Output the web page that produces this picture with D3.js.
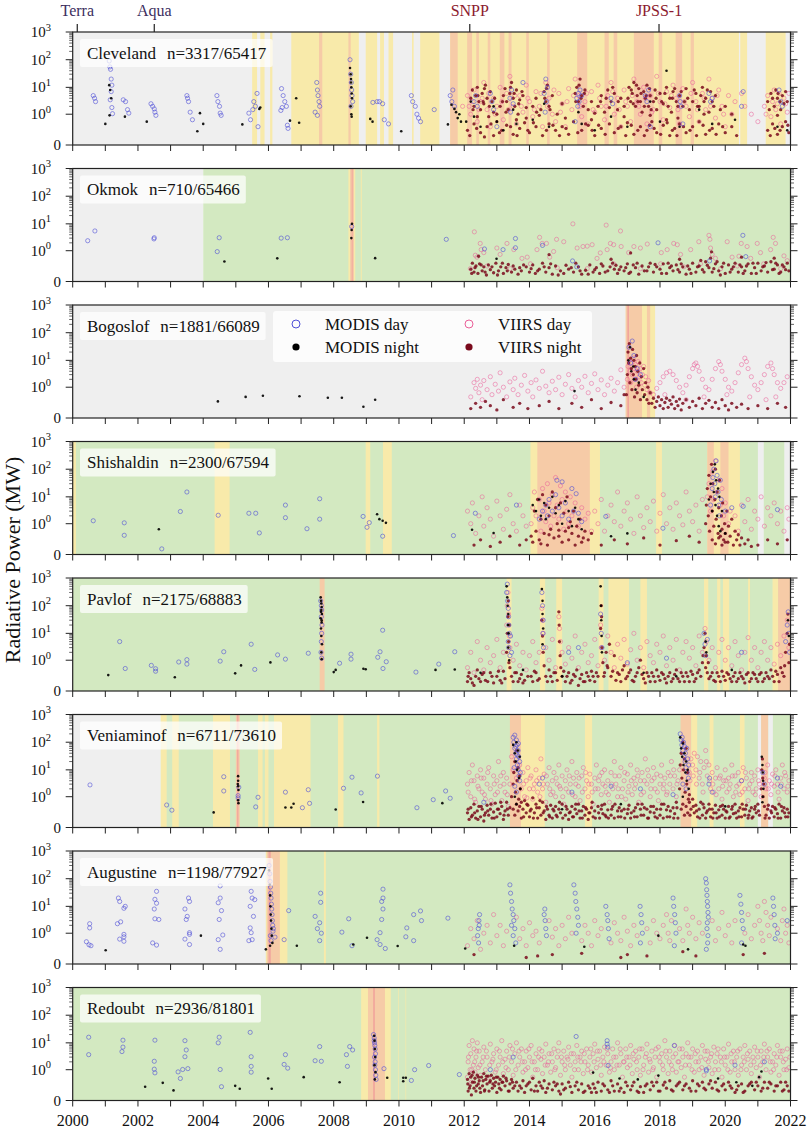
<!DOCTYPE html>
<html lang="en"><head>
<meta charset="utf-8">
<title>Radiative power, Alaskan volcanoes</title>
<script src="https://cdn.jsdelivr.net/npm/d3@7"></script>
<style>
  body { margin: 0; background: #fff; }
  text { font-family: "Liberation Serif", "DejaVu Serif", serif; }
</style>
</head>
<body>
<svg id="chart" width="808" height="1128"></svg>
<script>
// all point data: [years since 2000, radiative power in MW]
// bands: [start, end, colour code] in years since 2000 (u = unmonitored, g/y/o/r = alert colour)

const volcanoes = ["Cleveland", "Okmok", "Bogoslof", "Shishaldin", "Pavlof", "Veniaminof", "Augustine", "Redoubt"];
const detections = ["3317/65417", "710/65466", "1881/66089", "2300/67594", "2175/68883", "6711/73610", "1198/77927", "2936/81801"];

const satelliteNames = ["Terra", "Aqua", "SNPP", "JPSS-1"];
const satelliteYears = [2000.14, 2002.5, 2012.17, 2017.97];
const satelliteSensor = ["MODIS", "MODIS", "VIIRS", "VIIRS"];

const yearTicks = d3.range(2000, 2023);
const yearLabels = d3.range(2000, 2023, 2);
const powerTicks = [0, 1, 10, 100, 1000];
const powerExp = ["", "0", "1", "2", "3"];

const seriesNames = ["MODIS day", "MODIS night", "VIIRS day", "VIIRS night"];

// ---------- Cleveland
const clevelandBands = [[0,22,"u"],[5.5,5.65,"y"],[5.75,5.88,"y"],[6.05,6.12,"y"],[6.7,8.77,"y"],[7.55,7.65,"o"],[8.45,8.52,"o"],
  [8.98,9.33,"y"],[9.42,9.54,"y"],[9.68,9.82,"y"],[10.4,10.45,"y"],[10.65,11.24,"y"],[11.57,20.42,"y"],[20.46,20.67,"y"],[21.24,21.85,"y"],
  [11.57,11.8,"o"],[12.09,12.24,"o"],[12.37,12.45,"o"],[12.72,12.8,"o"],[13.09,13.23,"o"],[13.36,13.45,"o"],[13.9,13.98,"o"],[14.54,14.62,"o"],
  [15.46,15.77,"o"],[16.3,16.43,"o"],[16.58,16.69,"o"],[17.2,17.81,"o"],[17.96,18.07,"o"],[18.48,18.68,"o"],[18.94,19.04,"o"]];
const clevelandModisDay = [[0.63,5],[0.67,4],[0.7,3],[1.12,90],[1.14,55],[1.16,45],[1.18,20],[1.2,12],[1.18,7],[1.15,3.5],[1.2,1.8],[1.22,1.05],
  [1.55,3.5],[1.62,3],[1.68,1.5],[1.72,1.1],[2.4,2.5],[2.45,2],[2.5,1.6],[2.52,1.2],[2.55,0.9],[3.5,5],[3.52,4],[3.55,3],[3.6,1.2],[3.67,0.6],
  [4.42,5],[4.45,3],[4.5,2],[4.52,1.1],[4.55,0.9],[5.4,1.1],[5.45,0.6],[5.55,3],[5.6,2],[5.65,6],[5.68,0.3],[5.52,1.5],
  [6.38,1.4],[6.4,9],[6.45,5],[6.5,3],[6.55,2],[6.58,0.35],[6.6,0.25],[6.42,1.8],[7.43,1.2],[7.48,15],[7.5,8],[7.52,5],[7.55,3],[7.57,2],[7.5,0.9],
  [8.5,100],[8.52,30],[8.54,15],[8.55,8],[8.56,5],[8.58,3],[8.53,2],[9.33,3],[9.4,3],[9.5,2.5],[9.55,0.6],[9.68,0.4],[9.2,2.8],
  [10.38,5],[10.42,3],[10.5,2],[10.55,1],[10.6,0.7],[10.66,0.5],[11.08,1.5],[11.57,5],[11.62,3],[11.7,2],[11.65,8],
  [12.3,3],[12.35,5],[12.4,2],[12.8,6],[12.85,3],[12.9,1.5],[13.4,4],[13.45,8],[13.5,2.5],[13.42,1.2],[13.8,15],[14.45,6],[14.5,20],[14.52,3],
  [14.55,10],[14.48,1.2],[15.45,4],[15.5,6],[15.52,3],[15.55,8],[15.48,2],[15.6,5],[16.5,4],[16.55,2.5],[17.55,5],[17.6,3],[17.65,8],
  [18.6,5],[18.62,3],[18.65,2],[18.7,0.4],[19.5,6],[19.55,3],[19.6,4],[20.55,7],[20.5,2],[21.65,8],[21.7,3],[21.75,2],[13.0,0.3],[15.4,0.5],[17.7,0.3]];
const clevelandModisNight = [[1.0,0.4],[1.12,12],[1.15,8],[1.18,4],[1.13,0.9],[1.6,0.8],[2.27,0.5],[3.82,0.18],[3.9,1.1],[4.0,0.4],[5.2,0.38],
  [5.72,1.6],[5.75,1.8],[6.66,0.55],[6.85,4],[6.94,0.45],[8.5,50],[8.52,30],[8.53,20],[8.54,10],[8.55,6],[8.56,4],[8.52,2],[8.54,1],[8.55,0.8],[8.53,15],
  [9.12,0.65],[9.19,0.5],[10.07,0.18],[11.5,0.38],[11.61,2.3],[11.7,1.6],[11.75,1.2],[11.8,0.7],[11.9,0.5],[12.06,0.5],[11.85,1.0],
  [12.2,3],[12.3,0.8],[12.5,0.3],[12.9,2],[13.0,0.5],[13.2,0.2],[13.5,1.5],[13.6,0.4],[14.1,0.6],[14.45,2.5],[14.6,0.3],[15.5,1.2],[15.6,0.4],
  [16.0,0.2],[16.5,0.8],[17.0,0.3],[17.7,3],[18.2,40],[18.0,0.5],[18.6,0.3],[19.2,1.5],[19.6,0.4],[20.3,0.6],[21.6,0.3],[21.9,0.2]];
const clevelandViirsDay = [[11.95,2],[12.1,5],[12.2,1],[12.3,8],[12.4,0.5],[12.5,3],[12.6,15],[12.7,1.5],[12.8,0.3],[12.9,4],[13.0,2],[13.1,10],
  [13.2,0.6],[13.3,6],[13.4,25],[13.5,2],[13.6,0.4],[13.7,5],[13.8,1.2],[13.9,12],[14.0,3],[14.1,0.8],[14.2,7],[14.3,2],[14.4,0.3],[14.5,15],
  [14.6,4],[14.7,1],[14.8,0.5],[14.9,6],[15.0,2.5],[15.1,0.3],[15.2,9],[15.3,1.5],[15.4,20],[15.5,5],[15.6,0.8],[15.7,3],[15.8,0.4],[15.9,7],
  [16.0,1.2],[16.1,12],[16.2,2],[16.3,0.6],[16.4,5],[16.5,15],[16.6,1],[16.7,4],[16.8,0.3],[16.9,8],[17.0,2],[17.1,0.5],[17.2,20],[17.3,3],
  [17.4,1],[17.5,10],[17.6,0.4],[17.7,5],[17.8,1.5],[17.9,25],[18.0,3],[18.1,0.6],[18.2,7],[18.3,1.8],[18.4,12],[18.5,4],[18.6,0.4],[18.7,9],
  [18.8,2],[18.9,0.8],[19.0,15],[19.1,3],[19.2,0.5],[19.3,6],[19.4,1.5],[19.5,20],[19.6,4],[19.7,0.7],[19.8,8],[19.9,2],[20.0,0.3],[20.1,5],
  [20.2,1],[20.3,3],[20.5,6],[20.6,2],[20.8,1],[21.0,0.5],[21.2,2],[21.3,5],[21.4,0.8],[21.5,8],[21.6,2.5],[21.7,0.4],[21.8,4],[21.9,1.2],[21.95,6],
  [12.15,2],[12.25,3],[12.45,1.5],[12.55,4],[12.75,6],[12.95,1],[13.15,3],[13.35,1.5],[13.55,5],[13.75,2],[13.95,4],[14.15,1.5],[14.35,6],
  [14.55,2],[14.75,8],[14.95,1.2],[15.15,3],[15.35,5],[15.55,2],[15.75,6],[15.95,1.5],[16.15,4],[16.35,2],[16.55,7],[16.75,1.5],[16.95,3],
  [17.15,5],[17.35,2],[17.55,4],[17.75,1.2],[17.95,6],[18.15,2.5],[18.35,5],[18.55,1.5],[18.75,3],[18.95,6],[19.15,1.5],[19.35,4],[19.55,2],
  [19.75,5],[19.95,1],[21.25,1],[21.45,3],[21.55,1.5],[21.65,6],[21.85,2.5]];
const clevelandViirsNight = [[12.2,4],[12.25,8],[12.3,2],[12.35,5],[12.4,10],[12.45,3],[12.5,1.5],[12.55,6],[12.6,2.5],[12.65,12],[12.7,4],
  [12.75,0.8],[12.8,7],[12.85,3],[12.9,1.2],[13.1,2],[13.2,5],[13.25,9],[13.3,3],[13.35,1.5],[13.4,6],[13.45,15],[13.5,4],[13.55,2],[13.6,8],
  [13.65,1],[13.7,3.5],[13.8,5],[13.9,1.8],[14.1,2],[14.2,4],[14.35,1.5],[14.45,7],[14.5,3],[14.55,12],[14.6,2],[14.7,5],[14.85,1],[15.0,2.5],
  [15.4,6],[15.45,10],[15.5,3],[15.55,20],[15.6,5],[15.65,2],[15.7,8],[15.8,1.5],[15.9,3],[16.1,2],[16.2,5],[16.3,1.2],[16.4,8],[16.5,3],
  [16.6,6],[16.7,1.5],[16.8,4],[16.9,2],[17.05,10],[17.1,3],[17.15,6],[17.2,15],[17.25,2],[17.3,5],[17.35,9],[17.4,3],[17.45,1.2],[17.5,7],
  [17.55,4],[17.6,12],[17.65,2],[17.7,5],[17.8,3],[17.85,8],[17.9,1.5],[18.0,6],[18.1,2.5],[18.2,10],[18.3,4],[18.35,1.2],[18.4,7],[18.5,3],
  [18.6,5],[18.7,2],[18.8,9],[18.9,1.5],[19.0,3],[19.1,6],[19.2,2],[19.3,10],[19.4,4],[19.5,1.2],[19.55,7],[19.6,3],[19.7,5],[19.85,1.5],
  [20.0,2],[20.2,1],[21.3,3],[21.4,6],[21.5,2],[21.55,8],[21.6,4],[21.7,1.5],[21.75,5],[21.8,2.5],[21.9,3],
  [12.1,0.2],[12.3,0.4],[12.5,0.15],[12.7,0.3],[12.9,0.1],[13.0,0.5],[13.15,0.2],[13.3,0.35],[13.5,0.12],[13.7,0.25],[13.85,0.45],[14.0,0.15],
  [14.2,0.3],[14.4,0.1],[14.6,0.4],[14.8,0.2],[15.0,0.3],[15.2,0.12],[15.35,0.5],[15.6,0.2],[15.8,0.35],[16.0,0.1],[16.2,0.25],[16.45,0.4],
  [16.6,0.15],[16.8,0.3],[17.0,0.45],[17.2,0.12],[17.4,0.3],[17.6,0.2],[17.75,0.5],[17.9,0.15],[18.1,0.35],[18.3,0.1],[18.45,0.25],[18.6,0.4],
  [18.8,0.15],[19.0,0.3],[19.2,0.5],[19.4,0.12],[19.6,0.25],[19.8,0.4],[20.0,0.15],[20.2,0.3],[20.35,0.1],[21.3,0.2],[21.45,0.4],[21.6,0.12],
  [21.75,0.3],[21.85,0.5],[21.95,0.15],[12.4,0.8],[13.0,1],[13.9,0.7],[14.3,0.9],[15.1,0.7],[16.0,1.1],[16.9,0.8],[17.7,0.9],[18.55,0.7],
  [19.35,1],[21.6,0.9],[13.6,0.6],[15.9,0.6],[18.2,0.6],
  [12.27,1.5],[12.42,5],[12.58,3],[12.62,9],[12.77,2],[12.93,4],[13.17,3],[13.28,1.2],[13.42,10],[13.53,6],[13.67,2.5],[13.77,7],[14.22,1.2],
  [14.47,4],[14.52,9],[14.63,1.5],[15.42,3],[15.52,12],[15.58,4],[15.68,6],[16.18,3],[16.35,4],[16.45,1.8],[16.55,10],[16.72,3],[17.02,4],
  [17.12,8],[17.18,2.5],[17.28,12],[17.32,3],[17.42,6],[17.52,2],[17.58,5],[17.68,9],[17.73,1.5],[17.88,4],[18.05,3],[18.15,6],[18.25,2],
  [18.38,4],[18.45,9],[18.55,2],[18.65,7],[18.75,3],[18.85,4],[19.05,8],[19.15,2],[19.25,5],[19.35,3],[19.45,8],[19.65,2],[21.35,1.5],
  [21.45,4],[21.62,6],[21.68,3],[21.85,7],[12.17,0.1],[12.38,0.25],[12.62,0.08],[12.82,0.4],[13.08,0.15],[13.42,0.3],[13.62,0.1],[13.95,0.2],
  [14.12,0.45],[14.52,0.2],[14.72,0.35],[14.92,0.1],[15.12,0.25],[15.48,0.15],[15.72,0.4],[15.92,0.2],[16.12,0.35],[16.32,0.12],[16.72,0.25],
  [16.95,0.1],[17.12,0.35],[17.32,0.2],[17.52,0.1],[17.68,0.35],[17.82,0.25],[18.02,0.12],[18.22,0.45],[18.38,0.2],[18.52,0.1],[18.72,0.3],
  [18.92,0.2],[19.12,0.1],[19.32,0.35],[19.52,0.2],[19.72,0.12],[19.92,0.3],[21.38,0.1],[21.52,0.25],[21.68,0.2],[21.92,0.35]];

// ---------- Okmok
const okmokBands = [[0,4.0,"u"],[4.0,22,"g"],[8.45,8.66,"y"],[8.5,8.62,"o"],[8.55,8.58,"r"],[8.83,8.86,"y"]];
const okmokModisDay = [[0.46,2.4],[0.68,5.5],[2.49,2.8],[2.5,3.1],[4.43,0.92],[4.49,3.1],[6.39,3],[6.58,3.1],[8.55,8],[11.45,2.7],[12.62,1.17],
  [13.19,1.1],[13.57,2.9],[13.57,1.3],[14.4,1.6],[15.32,0.38],[15.45,0.2],[17.94,2],[19.52,0.38],[20.54,3.8],[20.63,0.58]];
const okmokModisNight = [[4.65,0.36],[6.27,0.49],[8.55,6],[8.56,10],[8.54,3],[9.27,0.5],[12.99,0.47]];
const okmokViirsDay = [[12.31,5.1],[12.49,1.9],[12.52,1.1],[12.34,0.66],[12.39,0.55],[12.6,0.84],[13.0,1.27],[13.1,0.71],[13.31,1.9],[13.52,1.1],
  [13.77,0.49],[13.93,0.55],[14.23,1.1],[14.31,3.2],[14.39,1.9],[14.52,1.9],[14.62,0.55],[14.74,0.93],[14.83,2.7],[15.05,2.2],[15.33,10],
  [15.46,1.27],[15.64,1.45],[15.77,1.5],[15.92,1.7],[16.07,0.49],[16.17,0.82],[16.35,9],[16.38,1.1],[16.48,1.9],[16.58,1.7],[16.79,5.5],
  [16.81,1.45],[17.04,0.84],[17.2,1.45],[17.4,1.27],[17.61,1.8],[18.04,0.84],[18.22,1.1],[18.42,1.9],[18.53,1.7],[18.63,0.71],[18.94,1.1],
  [19.19,2.2],[19.5,3.8],[19.53,2.7],[19.55,1.27],[19.6,0.71],[19.7,0.49],[20.06,2.2],[20.21,0.55],[20.42,0.6],[20.49,1.9],[20.67,1.45],
  [20.78,0.49],[20.98,1.9],[21.08,0.84],[21.39,1.1],[21.47,3.2],[21.54,1.9],[21.8,0.62],[21.9,0.39],[12.19,0.16],[12.7,0.22],[13.41,0.16],
  [14.03,0.28],[14.85,0.18],[15.77,0.16],[16.58,0.28],[17.4,0.16],[18.02,0.28],[18.73,0.2],[19.24,0.28],[19.86,0.16],[20.37,0.22],[21.18,0.28],[21.7,0.16]];
const okmokViirsNight = [[12.2,0.15],[12.25,0.3],[12.3,0.1],[12.36,0.22],[12.42,0.08],[12.47,0.28],[12.55,0.12],[12.6,0.2],[12.68,0.06],
  [12.74,0.25],[12.8,0.14],[12.9,0.09],[12.97,0.3],[13.05,0.12],[13.12,0.2],[13.2,0.08],[13.28,0.18],[13.35,0.26],[13.45,0.1],[13.55,0.15],
  [13.65,0.07],[13.75,0.12],[13.9,0.2],[14.0,0.1],[14.1,0.25],[14.18,0.08],[14.3,0.15],[14.4,0.3],[14.5,0.1],[14.6,0.18],[14.7,0.07],[14.8,0.22],
  [14.95,0.12],[15.05,0.08],[15.2,0.15],[15.35,0.1],[15.5,0.2],[15.6,0.07],[15.72,0.13],[15.85,0.25],[15.95,0.1],[16.05,0.18],[16.15,0.08],
  [16.25,0.22],[16.4,0.12],[16.55,0.3],[16.6,0.15],[16.7,0.08],[16.8,0.2],[16.9,0.12],[17.0,0.28],[17.1,0.1],[17.25,0.18],[17.35,0.07],
  [17.45,0.22],[17.6,0.12],[17.7,0.3],[17.8,0.1],[17.9,0.2],[18.0,0.15],[18.1,0.28],[18.2,0.08],[18.3,0.18],[18.4,0.12],[18.5,0.25],[18.6,0.1],
  [18.7,0.2],[18.8,0.07],[18.9,0.15],[19.0,0.3],[19.1,0.1],[19.2,0.22],[19.3,0.14],[19.4,0.35],[19.5,0.18],[19.55,0.5],[19.6,0.1],[19.7,0.28],
  [19.8,0.12],[19.9,0.2],[20.0,0.08],[20.1,0.25],[20.2,0.15],[20.3,0.3],[20.4,0.1],[20.5,0.2],[20.6,0.12],[20.7,0.28],[20.8,0.08],[20.9,0.18],
  [21.0,0.3],[21.1,0.12],[21.2,0.22],[21.3,0.1],[21.4,0.35],[21.5,0.15],[21.6,0.25],[21.7,0.1],[21.8,0.2],[21.9,0.3],[21.95,0.12],
  [12.44,0.6],[14.6,0.7],[17.1,0.82],[16.5,0.45],[19.58,0.9],[20.5,0.55],[21.5,0.5],[18.6,0.45],
  [12.23,0.08],[12.33,0.18],[12.52,0.25],[12.64,0.1],[12.85,0.2],[13.02,0.06],[13.17,0.3],[13.32,0.12],[13.5,0.22],[13.7,0.18],[13.82,0.25],
  [14.05,0.16],[14.25,0.12],[14.45,0.2],[14.65,0.28],[14.88,0.06],[15.12,0.24],[15.28,0.18],[15.42,0.3],[15.55,0.12],[15.8,0.07],[16.0,0.14],
  [16.2,0.28],[16.32,0.1],[16.47,0.2],[16.65,0.24],[16.75,0.14],[16.95,0.18],[17.05,0.08],[17.18,0.25],[17.3,0.3],[17.52,0.12],[17.65,0.2],
  [17.85,0.26],[18.05,0.08],[18.25,0.3],[18.35,0.22],[18.55,0.14],[18.65,0.28],[18.85,0.22],[18.95,0.08],[19.15,0.2],[19.25,0.4],[19.35,0.1],
  [19.45,0.24],[19.65,0.16],[19.75,0.35],[19.85,0.06],[19.95,0.3],[20.15,0.1],[20.25,0.2],[20.45,0.25],[20.55,0.08],[20.65,0.22],[20.85,0.3],
  [20.95,0.08],[21.15,0.2],[21.25,0.32],[21.45,0.14],[21.55,0.3],[21.65,0.08],[21.75,0.25],[21.85,0.14]];

// ---------- Bogoslof
const bogoslofBands = [[0,22,"u"],[16.95,17.85,"y"],[16.95,17.45,"o"],[17.0,17.05,"r"],[17.6,17.7,"o"]];
const bogoslofModisDay = [[17.05,30],[17.1,8],[17.15,50],[17.2,15],[17.3,5],[17.4,3],[17.25,2]];
const bogoslofModisNight = [[4.45,0.25],[5.3,0.4],[5.83,0.45],[6.95,0.43],[7.82,0.37],[8.25,0.37],[8.91,0.13],[9.27,0.3],[15.38,0.7],
  [17.03,10],[17.08,30],[17.12,4],[17.2,2],[17.25,0.8],[17.35,1.5],[17.5,0.4],[17.18,6]];
const bogoslofViirsDay = [[12.2,0.4],[12.3,1.5],[12.35,0.9],[12.4,2.0],[12.45,0.6],[12.5,1.2],[12.55,0.3],[12.6,1.8],[12.7,0.8],[12.8,2.5],
  [12.85,0.5],[12.95,1.3],[13.05,0.7],[13.1,3.5],[13.2,1.0],[13.3,0.4],[13.4,1.6],[13.5,0.8],[13.55,2.2],[13.65,0.5],[13.75,1.2],[13.85,2.8],
  [13.95,0.7],[14.05,1.5],[14.1,0.4],[14.2,1.9],[14.3,0.9],[14.4,4.0],[14.5,1.1],[14.6,0.6],[14.7,1.7],[14.8,0.8],[14.9,2.4],[15.0,0.5],
  [15.1,1.3],[15.2,3.0],[15.3,0.9],[15.4,0.4],[15.5,1.8],[15.6,1.0],[15.7,2.6],[15.8,0.6],[15.9,1.4],[16.0,3.2],[16.1,0.8],[16.2,1.9],
  [16.3,0.5],[16.4,1.2],[16.5,2.2],[16.6,0.7],[16.7,1.5],[16.8,4.5],[16.9,1.0],[17.0,2],[17.02,6],[17.05,10],[17.08,4],[17.1,1.5],[17.12,8],
  [17.15,3],[17.18,12],[17.2,5],[17.22,2],[17.25,7],[17.28,1],[17.3,4],[17.33,9],[17.36,2.5],[17.4,5],[17.43,1.5],[17.46,3],[17.5,6],
  [17.53,1.2],[17.56,2.5],[17.6,0.8],[17.65,1.8],[17.7,0.6],[17.8,0.5],[17.9,0.9],[18.0,1.5],[18.1,2.5],[18.2,3.5],[18.3,4],[18.4,3],
  [18.5,1.8],[18.6,1],[18.7,0.6],[18.8,1.2],[18.9,2.5],[19.0,5],[19.05,7],[19.1,8],[19.15,6],[19.2,4],[19.3,2],[19.4,1],[19.5,0.8],[19.6,2],
  [19.7,5],[19.8,9],[19.85,7],[19.9,4],[20.0,2],[20.1,1],[20.2,0.7],[20.3,1.5],[20.4,3.5],[20.5,7],[20.6,12],[20.65,9],[20.7,5],[20.8,2.5],
  [20.9,1.2],[21.0,0.8],[21.1,1.5],[21.2,3],[21.3,6],[21.4,8],[21.45,5],[21.5,3],[21.6,1.5],[21.7,0.9],[21.8,1.5],[21.9,2.5],[18.15,0.5],
  [18.8,0.3],[19.35,0.4],[20.05,0.5],[20.75,0.4],[21.55,0.4],[21.25,0.3]];
const bogoslofViirsNight = [[12.2,0.1],[12.35,0.2],[12.5,0.12],[12.65,0.25],[12.8,0.15],[13.0,0.08],[13.2,0.3],[13.5,0.12],[13.7,0.2],[13.95,0.1],
  [14.3,0.15],[14.6,0.25],[14.9,0.1],[15.3,0.2],[15.6,0.12],[15.9,0.3],[16.2,0.1],[16.5,0.22],[16.8,0.15],[16.9,0.5],[16.97,0.5],[17.0,3],
  [17.02,20],[17.04,8],[17.06,40],[17.08,1.5],[17.1,12],[17.12,5],[17.14,0.8],[17.16,25],[17.18,3],[17.2,10],[17.22,0.4],[17.24,6],[17.26,2],
  [17.28,15],[17.3,0.6],[17.32,4],[17.35,1.2],[17.38,8],[17.4,0.3],[17.43,2.5],[17.46,0.8],[17.5,5],[17.53,0.5],[17.56,1.5],[17.6,0.3],
  [17.63,1],[17.66,0.2],[17.7,0.6],[17.75,0.2],[17.8,0.35],[17.85,0.12],[17.9,0.25],[17.95,0.4],[18.0,0.15],[18.05,0.3],[18.1,0.1],[18.15,0.22],
  [18.2,0.35],[18.25,0.12],[18.3,0.28],[18.35,0.18],[18.4,0.4],[18.45,0.1],[18.5,0.25],[18.55,0.15],[18.6,0.32],[18.65,0.08],[18.7,0.2],
  [18.8,0.3],[18.9,0.12],[19.0,0.25],[19.1,0.15],[19.2,0.35],[19.3,0.1],[19.4,0.2],[19.5,0.28],[19.6,0.12],[19.7,0.22],[19.8,0.1],[19.9,0.3],
  [20.0,0.15],[20.1,0.08],[20.2,0.2],[20.35,0.12],[20.5,0.18],[20.7,0.1],[21.0,0.15],[21.3,0.1],[21.6,0.2],[21.85,0.12]];

// ---------- Shishaldin
const shishaldinBands = [[0,22,"g"],[0,0.1,"y"],[4.35,4.81,"y"],[8.98,9.12,"y"],[9.51,9.78,"y"],[14.03,16.16,"y"],[14.24,15.85,"o"],
  [17.88,18.06,"y"],[19.45,20.45,"y"],[19.45,19.65,"o"],[19.85,20.1,"o"],[21.0,21.18,"u"],[21.81,22,"u"]];
const shishaldinModisDay = [[0.63,1.3],[1.58,1.08],[1.58,0.33],[2.73,0.05],[3.3,2.9],[3.5,15],[4.46,2.1],[5.4,2.5],[5.61,2.5],[5.72,0.42],
  [6.52,5],[6.52,1.7],[7.18,0.63],[7.57,8.5],[7.57,1.5],[8.9,1.9],[9.02,0.72],[9.09,1.1],[9.5,0.3],[11.67,0.32],
  [12.34,2.5],[13.6,5],[14.3,1.5],[14.4,3],[14.5,5],[14.55,2],[14.6,8],[14.7,3],[14.8,12],[14.9,4],[15.0,2],[15.1,6],[15.2,1.5],[15.3,20],
  [15.35,3],[15.43,13],[15.5,2.5],[15.6,1.2],[16.34,1.9],[18.09,0.66],[19.55,5],[19.6,20],[19.62,50],[19.65,100],[19.68,30],[19.7,10],
  [19.72,200],[19.75,60],[19.78,15],[19.8,5],[19.82,2],[19.85,40],[19.88,8],[20.0,3],[20.2,4],[20.55,4.5],[21.6,3.4],[15.0,35],[14.84,40]];
const shishaldinModisNight = [[2.64,0.6],[9.33,2.3],[9.4,1.5],[9.5,1.3],[9.6,1.08],[12.24,0.57],[12.9,0.42],[14.1,5],[14.2,3],[14.3,8],
  [14.35,2],[14.45,6],[14.5,1.5],[14.6,4],[14.7,10],[14.8,2.5],[14.9,5],[15.0,1],[15.1,7],[15.2,3],[15.3,0.8],[15.4,4],[15.5,1.5],[15.6,0.6],
  [19.5,8],[19.55,30],[19.6,3],[19.62,80],[19.65,15],[19.68,150],[19.7,5],[19.72,40],[19.75,2],[19.78,20],[19.8,0.8],[19.82,10],[19.85,0.5],
  [19.9,3],[20.0,0.4],[16.5,0.3],[17.0,0.4]];
const shishaldinViirsDay = [[12.1,3],[12.2,1],[12.25,6],[12.35,0.4],[12.45,2],[12.55,10],[12.6,0.8],[12.7,4],[12.8,1.5],[12.9,0.3],[13.0,7],
  [13.1,2],[13.2,0.6],[13.3,3.5],[13.4,12],[13.5,1],[13.6,0.5],[13.7,5],[13.8,2],[13.9,0.8],[14.05,1],[14.1,4],[14.15,15],[14.2,2],[14.3,8],
  [14.35,0.5],[14.4,20],[14.45,3],[14.5,1.2],[14.55,30],[14.6,6],[14.65,0.8],[14.7,12],[14.75,2],[14.8,50],[14.85,5],[14.9,1.5],[14.95,25],
  [15.0,8],[15.05,0.6],[15.1,15],[15.15,3],[15.2,1],[15.25,10],[15.3,2],[15.4,6],[15.5,0.8],[15.6,4],[15.7,1.5],[15.8,2.5],[15.9,0.5],
  [16.0,3],[16.1,1],[16.2,8],[16.3,0.5],[16.4,2],[16.5,5],[16.6,1.2],[16.7,15],[16.8,0.8],[16.9,3],[17.0,6],[17.1,1.5],[17.2,0.4],[17.3,10],
  [17.4,2],[17.5,0.7],[17.6,4],[17.7,1.2],[17.8,7],[17.9,0.5],[18.0,2.5],[18.1,12],[18.2,1],[18.3,4],[18.4,0.6],[18.5,6],[18.6,2],[18.7,0.9],
  [18.8,15],[18.9,3],[19.0,1.2],[19.1,5],[19.2,0.5],[19.3,8],[19.45,10],[19.5,30],[19.55,3],[19.6,80],[19.65,8],[19.7,200],[19.75,15],
  [19.8,40],[19.85,5],[19.9,20],[19.95,2],[20.0,6],[20.1,1],[20.15,3],[20.3,2],[20.4,0.5],[20.5,5],[20.6,1.2],[20.7,8],[20.8,0.6],[20.9,3],
  [21.0,1.5],[21.1,10],[21.2,0.8],[21.3,4],[21.4,2],[21.5,6],[21.6,1],[21.7,3],[21.8,0.5],[21.9,4],[21.95,1.5]];
const shishaldinViirsNight = [[12.3,0.1],[12.5,0.2],[12.8,0.08],[13.1,0.15],[13.4,0.3],[13.7,0.1],[13.9,0.2],[14.05,0.3],[14.1,0.15],[14.15,3],
  [14.2,0.5],[14.25,8],[14.3,0.2],[14.35,1.5],[14.4,12],[14.45,0.4],[14.5,5],[14.55,0.1],[14.6,2],[14.65,0.6],[14.7,15],[14.75,0.25],[14.8,4],
  [14.85,1],[14.9,0.3],[14.95,6],[15.0,0.15],[15.05,2.5],[15.1,0.5],[15.15,10],[15.2,0.2],[15.25,1.2],[15.3,0.4],[15.35,3],[15.4,0.1],
  [15.45,0.8],[15.5,0.3],[15.55,1.5],[15.6,0.15],[15.7,0.5],[15.8,0.2],[15.9,0.4],[14.35,0.12],[14.6,0.35],[14.9,0.55],[15.2,0.7],[15.65,0.25],
  [16.2,0.1],[16.6,0.2],[17.0,0.12],[17.5,0.25],[18.0,0.1],[18.5,0.18],[18.9,0.3],[19.2,0.15],[19.4,1],[19.42,5],[19.45,20],[19.48,2],
  [19.5,60],[19.52,0.5],[19.55,10],[19.58,150],[19.6,3],[19.62,30],[19.65,0.8],[19.68,8],[19.7,100],[19.72,1.5],[19.75,15],[19.78,0.4],
  [19.8,4],[19.82,40],[19.85,0.3],[19.88,2],[19.9,0.6],[19.92,6],[19.95,0.2],[19.98,1],[20.0,0.4],[20.05,3],[20.08,0.15],[20.1,0.8],
  [20.15,0.3],[20.2,1.5],[20.25,0.1],[20.3,0.5],[20.35,0.2],[20.4,0.35],[20.45,0.1],[20.5,0.25],[20.6,0.12],[20.7,0.2],[20.8,0.08],
  [19.6,0.2],[19.7,0.12],[19.8,0.25],[19.9,0.1],[20.0,0.15],[21.0,0.1],[21.3,0.2],[21.6,0.12],[21.9,0.2]];

// ---------- Pavlof
const pavlofBands = [[0,22,"g"],[7.57,7.72,"o"],[13.3,13.45,"y"],[14.32,14.48,"y"],[14.82,15.0,"y"],[16.12,16.27,"y"],[16.42,17.05,"y"],
  [17.4,17.6,"y"],[19.35,19.48,"y"],[19.75,19.85,"y"],[19.93,20.12,"y"],[20.7,20.76,"y"],[21.45,21.62,"y"],[21.62,22,"o"]];
const pavlofModisDay = [[1.44,5],[1.61,0.46],[2.41,0.62],[2.54,0.45],[2.54,0.35],[3.25,0.85],[3.5,1.05],[3.5,0.7],[4.52,0.92],[4.63,2.1],
  [5.47,4],[5.58,0.42],[6.28,1.6],[6.52,1.1],[7.22,1.85],[8.18,0.76],[8.53,1.7],[8.53,1.1],[9.35,1.3],[9.5,13],[9.42,2.1],[9.61,0.87],
  [9.51,0.46],[10.52,0.32],[11.22,0.7],[11.71,2.1],[7.6,150],[7.62,100],[7.63,70],[7.62,40],[7.64,20],[7.63,10],[7.62,5],[7.61,2],[7.63,1.2],
  [13.3,300],[13.32,600],[13.33,150],[13.35,80],[13.36,40],[13.37,20],[13.38,10],[13.35,5],[13.36,3],[13.4,1.5],[13.42,8],[13.45,2],
  [14.38,300],[14.4,100],[14.42,30],[14.41,10],[14.43,3],[15.2,2],[15.5,3],[16.18,50],[16.2,10],[16.22,3],[19.35,10],[19.38,4],[19.4,1.5],
  [19.45,6],[17.0,0.8],[18.2,1.2],[20.5,2],[21.85,5],[21.9,20],[21.93,60],[21.95,10],[21.97,2]];
const pavlofModisNight = [[1.09,0.23],[3.13,0.18],[4.98,0.28],[5.16,0.62],[6.06,0.82],[8.0,0.32],[8.06,0.4],[8.91,0.45],[8.98,0.43],
  [11.12,0.4],[11.71,0.42],[7.6,200],[7.61,150],[7.62,120],[7.63,90],[7.62,70],[7.64,50],[7.6,35],[7.63,25],[7.61,15],[7.62,8],[7.64,4],
  [7.62,2],[7.63,1.1],[7.61,60],[7.63,30],[13.3,500],[13.32,200],[13.33,100],[13.35,50],[13.34,20],[13.36,10],[13.35,3],[13.38,1],
  [14.38,400],[14.4,150],[14.4,50],[14.42,15],[14.4,4],[16.18,500],[16.19,100],[16.2,30],[16.21,8],[16.22,2],[19.4,5],[19.42,2],
  [21.92,30],[21.95,8],[12.5,0.3],[13.8,0.4],[15.0,0.2],[17.5,0.3],[18.5,0.2],[20.2,0.4]];
const pavlofViirsDay = [[12.1,0.5],[12.2,2],[12.3,0.3],[12.4,5],[12.5,1],[12.6,0.4],[12.7,3],[12.8,0.8],[12.9,1.5],[13.0,6],[13.1,0.5],
  [13.2,2],[13.3,20],[13.32,100],[13.34,300],[13.36,50],[13.38,8],[13.4,3],[13.5,1],[13.6,4],[13.7,0.6],[13.8,2],[13.9,0.4],[14.0,1.5],
  [14.1,5],[14.2,0.8],[14.3,2],[14.38,80],[14.4,30],[14.42,10],[14.5,3],[14.6,1],[14.7,6],[14.8,0.5],[14.9,40],[14.92,15],[14.95,5],
  [15.0,2],[15.1,0.7],[15.2,3],[15.3,1.2],[15.4,8],[15.5,0.5],[15.6,2],[15.7,4],[15.8,0.8],[15.9,1.5],[16.0,6],[16.1,0.6],[16.18,20],
  [16.2,3],[16.3,1],[16.4,8],[16.5,2],[16.6,0.5],[16.7,4],[16.8,1.2],[16.9,6],[17.0,0.7],[17.1,2.5],[17.2,10],[17.3,1],[17.4,3],[17.5,0.5],
  [17.6,5],[17.7,1.5],[17.8,0.8],[17.9,4],[18.0,2],[18.1,8],[18.2,0.6],[18.3,3],[18.4,1],[18.5,6],[18.6,0.4],[18.7,2],[18.8,5],[18.9,1.2],
  [19.0,3],[19.1,0.6],[19.2,8],[19.3,2],[19.38,15],[19.42,5],[19.5,1],[19.6,3],[19.7,0.5],[19.8,2],[19.9,6],[20.0,1],[20.1,3],[20.2,0.6],
  [20.3,5],[20.4,1.5],[20.5,0.4],[20.6,2],[20.7,7],[20.8,1],[20.9,3],[21.0,0.5],[21.1,2],[21.2,5],[21.3,1],[21.4,3],[21.5,0.7],[21.6,4],
  [21.7,1.5],[21.8,8],[21.9,30],[21.95,3]];
const pavlofViirsNight = [[12.1,0.1],[12.15,0.3],[12.2,0.15],[12.3,0.05],[12.35,0.2],[12.4,0.4],[12.5,0.1],[12.55,0.25],[12.65,0.12],
  [12.8,0.3],[12.9,0.08],[13.0,0.2],[13.1,0.12],[13.2,0.35],[13.3,2],[13.32,10],[13.34,40],[13.35,150],[13.36,5],[13.37,0.8],[13.38,20],
  [13.4,0.5],[13.45,0.2],[13.5,0.1],[13.6,0.3],[13.7,0.15],[13.8,0.08],[13.95,0.2],[14.1,0.1],[14.2,0.3],[14.3,0.15],[14.38,30],[14.4,8],
  [14.42,2],[14.45,0.6],[14.5,0.2],[14.6,0.4],[14.7,0.1],[14.8,0.3],[14.9,60],[14.91,20],[14.92,5],[14.94,1.5],[14.96,0.5],[15.0,0.2],
  [15.1,0.1],[15.2,0.3],[15.3,0.12],[15.4,0.2],[15.5,0.05],[15.6,0.25],[15.7,0.1],[15.8,0.2],[15.9,0.35],[16.0,0.1],[16.1,0.2],[16.18,15],
  [16.2,100],[16.21,40],[16.22,3],[16.25,0.8],[16.3,0.3],[16.35,2],[16.4,0.5],[16.45,4],[16.5,0.2],[16.6,1.5],[16.7,0.3],[16.8,0.1],
  [16.9,0.6],[17.0,0.2],[17.1,0.4],[17.2,0.1],[17.3,0.3],[17.4,1],[17.5,0.15],[17.6,0.3],[17.7,0.1],[17.8,0.2],[17.9,0.4],[18.0,0.12],
  [18.1,0.25],[18.2,0.08],[18.3,0.3],[18.4,0.15],[18.5,0.4],[18.6,0.1],[18.7,0.2],[18.8,0.3],[18.9,0.1],[19.0,0.25],[19.1,0.15],[19.2,0.4],
  [19.3,0.8],[19.35,3],[19.38,10],[19.4,0.5],[19.42,1.5],[19.45,0.3],[19.5,0.15],[19.6,0.3],[19.7,0.1],[19.8,0.2],[19.9,0.35],[20.0,0.12],
  [20.1,0.25],[20.2,0.1],[20.3,0.3],[20.4,0.15],[20.5,0.2],[20.6,0.08],[20.7,0.3],[20.8,0.15],[20.9,0.25],[21.0,0.1],[21.1,0.3],[21.2,0.15],
  [21.3,0.2],[21.4,0.4],[21.5,0.1],[21.6,0.25],[21.7,0.5],[21.8,0.2],[21.85,2],[21.9,10],[21.92,50],[21.95,0.8],[21.97,4],
  [12.12,0.2],[12.25,0.08],[12.45,0.15],[12.6,0.3],[12.72,0.1],[12.85,0.2],[13.05,0.35],[13.15,0.08],[13.25,0.15],[13.55,0.3],[13.65,0.1],
  [13.75,0.25],[13.85,0.12],[14.05,0.2],[14.15,0.35],[14.25,0.12],[14.55,0.1],[14.65,0.2],[14.75,0.3],[14.85,0.12],[15.05,0.35],[15.15,0.2],
  [15.25,0.08],[15.35,0.25],[15.45,0.4],[15.55,0.15],[15.65,0.1],[15.75,0.3],[15.85,0.12],[15.95,0.2],[16.05,0.3],[16.28,0.2],[16.38,0.6],
  [16.55,0.35],[16.65,0.12],[16.75,0.25],[16.85,0.4],[16.95,0.15],[17.05,0.3],[17.15,0.12],[17.25,0.2],[17.35,0.5],[17.45,0.25],[17.55,0.08],
  [17.65,0.2],[17.75,0.3],[17.85,0.1],[17.95,0.2],[18.05,0.3],[18.15,0.15],[18.25,0.2],[18.35,0.1],[18.45,0.25],[18.55,0.15],[18.65,0.3],
  [18.75,0.1],[18.85,0.2],[18.95,0.35],[19.05,0.1],[19.15,0.3],[19.25,0.2],[19.32,1.5],[19.48,0.8],[19.55,0.2],[19.65,0.12],[19.75,0.3],
  [19.85,0.1],[19.95,0.2],[20.05,0.3],[20.15,0.15],[20.25,0.2],[20.35,0.1],[20.45,0.3],[20.55,0.15],[20.65,0.25],[20.75,0.1],[20.85,0.3],
  [20.95,0.15],[21.05,0.25],[21.15,0.1],[21.25,0.3],[21.35,0.15],[21.45,0.2],[21.55,0.35],[21.65,0.1],[21.75,0.3],[21.82,0.6]];

// ---------- Veniaminof
const veniaminofBands = [[0,2.7,"u"],[2.7,22,"g"],[2.7,2.88,"y"],[3.05,3.25,"y"],[4.3,4.82,"y"],[5.0,5.12,"o"],[5.04,5.08,"r"],
  [5.68,5.82,"y"],[5.89,6.0,"y"],[6.17,7.29,"y"],[8.13,8.3,"y"],[9.33,9.4,"y"],[13.4,13.74,"o"],[13.74,14.47,"y"],[15.7,15.92,"y"],
  [18.63,18.96,"o"],[18.96,19.14,"y"],[19.52,19.64,"y"],[20.45,20.59,"y"],[21.0,21.1,"u"],[21.1,21.32,"o"],[21.32,21.46,"u"]];
const veniaminofModisDay = [[0.53,2.8],[2.88,0.46],[3.04,0.27],[4.63,5.6],[4.63,1.66],[5.09,2.3],[5.07,1.1],[5.07,0.9],[5.68,0.95],
  [5.61,0.38],[6.52,1.5],[7.22,1.85],[7.26,0.54],[7.04,0.35],[8.3,2.1],[8.56,5.4],[8.84,1.4],[9.34,5.9],[10.55,0.35],[11.05,0.76],
  [11.43,1.66],[11.57,0.87],[13.5,150],[13.52,100],[13.55,60],[13.55,180],[13.58,40],[13.6,120],[13.6,25],[13.62,80],[13.63,15],[13.65,50],
  [13.65,10],[13.67,30],[13.68,6],[13.7,20],[13.7,4],[13.72,8],[13.55,2.5],[13.6,1.5],[13.58,70],[13.62,35],[13.53,12],[13.66,90],
  [14.3,3],[14.4,5],[16.5,2.5],[17.4,2],[18.4,1.2],[18.62,200],[18.65,120],[18.67,80],[18.68,150],[18.7,50],[18.72,100],[18.73,30],
  [18.75,70],[18.77,20],[18.78,40],[18.8,12],[18.82,60],[18.83,8],[18.85,25],[18.87,5],[18.88,15],[18.7,3],[18.8,2],[19.5,3],[19.52,5],
  [19.6,1.5],[20.5,4],[21.15,8],[21.2,3],[21.6,5],[21.7,2.5],[12.6,0.6],[15.3,1.5]];
const veniaminofModisNight = [[4.32,0.21],[6.52,0.36],[6.7,0.36],[6.77,0.52],[8.06,0.29],[8.9,0.61],[11.33,0.55],[5.07,5.9],[5.07,4],
  [5.07,2.5],[5.08,1.8],[5.07,0.72],[5.08,0.55],[5.06,3],[13.5,80],[13.55,40],[13.58,20],[13.6,100],[13.62,10],[13.65,50],[13.68,5],
  [13.7,30],[13.72,2],[13.55,1],[13.6,0.5],[18.62,150],[18.65,60],[18.68,30],[18.7,90],[18.72,15],[18.75,40],[18.78,8],[18.8,20],
  [18.82,4],[18.85,10],[18.88,2],[18.7,1],[21.12,30],[21.14,15],[21.15,8],[21.16,4],[21.17,2],[21.15,1],[21.14,0.6],[16.8,0.5],[15.0,0.3],[20.0,0.4]];
const veniaminofViirsDay = [[12.1,3],[12.15,8],[12.2,1],[12.25,15],[12.3,4],[12.35,0.6],[12.4,6],[12.45,2],[12.5,10],[12.55,1.5],[12.6,5],
  [12.65,0.8],[12.7,3],[12.75,12],[12.8,2],[12.85,0.5],[12.9,6],[12.95,1.2],[13.0,4],[13.05,20],[13.1,2.5],[13.15,0.7],[13.2,8],[13.25,1.5],
  [13.3,5],[13.35,0.4],[13.4,3],[13.45,30],[13.5,10],[13.6,5],[13.7,15],[13.75,2],[13.8,8],[13.85,1],[13.9,4],[13.95,12],[14.0,2],[14.05,6],
  [14.1,0.8],[14.15,3],[14.2,10],[14.25,1.5],[14.3,5],[14.35,25],[14.4,2],[14.45,7],[14.5,0.6],[14.55,3],[14.6,12],[14.65,1.2],[14.7,4],
  [14.75,8],[14.8,1],[14.85,3],[14.9,15],[14.95,2],[15.0,6],[15.05,0.5],[15.1,4],[15.15,10],[15.2,1.5],[15.25,3],[15.3,20],[15.35,5],
  [15.4,1],[15.45,8],[15.5,2.5],[15.55,0.7],[15.6,6],[15.65,12],[15.7,2],[15.75,4],[15.8,1],[15.85,7],[15.9,3],[15.95,0.5],[16.0,5],
  [16.05,15],[16.1,2],[16.15,6],[16.2,1.2],[16.25,3],[16.3,10],[16.35,1.5],[16.4,4],[16.45,0.6],[16.5,8],[16.55,2],[16.6,20],[16.65,3],
  [16.7,1],[16.75,6],[16.8,12],[16.85,2],[16.9,4],[16.95,0.8],[17.0,7],[17.05,2.5],[17.1,15],[17.15,1.2],[17.2,5],[17.25,3],[17.3,10],
  [17.35,0.6],[17.4,4],[17.45,8],[17.5,1.5],[17.55,25],[17.6,3],[17.65,6],[17.7,1],[17.75,4],[17.8,12],[17.85,2],[17.9,7],[17.95,0.7],
  [18.0,3],[18.05,15],[18.1,2],[18.15,5],[18.2,1.2],[18.25,8],[18.3,3],[18.35,20],[18.4,2],[18.45,6],[18.5,1],[18.55,4],[18.6,10],[18.9,8],
  [18.95,25],[19.0,15],[19.05,40],[19.1,10],[19.15,30],[19.2,5],[19.25,20],[19.3,3],[19.35,12],[19.4,50],[19.45,6],[19.5,15],[19.55,2],
  [19.6,8],[19.65,1.5],[19.7,5],[19.75,12],[19.8,2],[19.85,6],[19.9,0.8],[19.95,4],[20.0,10],[20.05,1.5],[20.1,5],[20.15,3],[20.2,15],
  [20.25,1],[20.3,6],[20.35,2.5],[20.4,8],[20.45,1.2],[20.5,4],[20.55,12],[20.6,2],[20.65,5],[20.7,0.7],[20.75,3],[20.8,8],[20.85,1.5],
  [20.9,6],[20.95,2],[21.0,10],[21.05,3],[21.1,1],[21.2,5],[21.25,2],[21.3,15],[21.35,4],[21.4,1.2],[21.45,7],[21.5,2.5],[21.55,10],
  [21.6,3],[21.65,0.8],[21.7,5],[21.75,15],[21.8,2],[21.85,6],[21.9,1.5],[21.95,4],
  [12.12,1.5],[12.22,4],[12.32,0.8],[12.42,2.5],[12.52,5],[12.62,1.2],[12.72,8],[12.82,0.7],[12.92,3],[13.02,1.5],[13.12,6],[13.22,3],
  [13.32,1.2],[13.82,3],[13.92,0.9],[14.02,5],[14.12,2],[14.22,4],[14.32,1],[14.42,3],[14.52,6],[14.62,2],[14.72,1.5],[14.82,5],[14.92,2.5],
  [15.02,1],[15.12,2],[15.22,6],[15.32,1.2],[15.42,3],[15.52,5],[15.62,1.5],[15.72,8],[15.82,3],[15.92,1.5],[16.02,2],[16.12,4],[16.22,8],
  [16.32,2.5],[16.42,1.2],[16.52,3],[16.62,6],[16.72,2],[16.82,1],[16.92,8],[17.02,1.5],[17.12,4],[17.22,2],[17.32,6],[17.42,1.2],[17.52,4],
  [17.62,10],[17.72,2],[17.82,5],[17.92,1.5],[18.02,6],[18.12,3],[18.22,1.5],[18.32,6],[18.42,10],[18.52,3],[18.92,4],[19.02,6],[19.12,3],
  [19.22,8],[19.32,1.5],[19.42,20],[19.52,4],[19.62,3],[19.72,1.2],[19.82,5],[19.92,2.5],[20.02,4],[20.12,2],[20.22,6],[20.32,1.5],[20.42,3],
  [20.52,1.5],[20.62,8],[20.72,2],[20.82,4],[20.92,1.2],[21.02,4],[21.22,8],[21.32,2],[21.42,3],[21.52,6],[21.62,1.5],[21.72,3],[21.82,8],[21.92,2.5]];
const veniaminofViirsNight = [[12.1,0.2],[12.15,0.08],[12.2,0.35],[12.25,0.15],[12.3,0.5],[12.35,0.1],[12.4,0.25],[12.45,0.4],[12.5,0.12],
  [12.55,0.3],[12.6,0.06],[12.65,0.2],[12.7,0.45],[12.75,0.15],[12.8,0.3],[12.85,0.1],[12.9,0.22],[12.95,0.55],[13.0,0.12],[13.05,0.3],
  [13.1,0.18],[13.15,0.4],[13.2,0.08],[13.25,0.25],[13.3,0.6],[13.35,0.15],[13.4,0.35],[13.45,1],[13.5,3],[13.52,8],[13.55,20],[13.57,1.5],
  [13.6,50],[13.62,4],[13.65,12],[13.67,0.8],[13.7,6],[13.72,2],[13.75,0.6],[13.5,0.3],[13.55,0.15],[13.6,0.5],[13.65,0.25],[13.7,0.4],
  [13.75,0.1],[13.8,0.3],[13.85,0.7],[13.9,0.2],[13.95,0.45],[14.0,0.12],[14.05,0.3],[14.1,0.9],[14.15,0.2],[14.2,0.5],[14.25,0.1],
  [14.3,0.35],[14.35,0.15],[14.4,0.6],[14.45,0.25],[14.5,0.08],[14.55,0.3],[14.6,0.15],[14.65,0.45],[14.7,0.1],[14.75,0.25],[14.8,0.4],
  [14.85,0.12],[14.9,0.3],[14.95,0.2],[15.0,0.5],[15.1,0.15],[15.15,0.3],[15.2,0.08],[15.25,0.22],[15.3,0.4],[15.35,0.12],[15.4,0.3],
  [15.45,0.18],[15.5,0.5],[15.55,0.1],[15.6,0.25],[15.65,0.4],[15.7,0.15],[15.75,0.3],[15.8,0.08],[15.85,0.2],[15.9,0.35],[15.95,0.12],
  [16.0,0.25],[16.1,0.4],[16.15,0.1],[16.2,0.3],[16.25,0.18],[16.3,0.5],[16.35,0.12],[16.4,0.28],[16.5,0.15],[16.55,0.4],[16.6,0.1],
  [16.7,0.25],[16.75,0.35],[16.8,0.12],[16.9,0.3],[17.0,0.18],[17.05,0.45],[17.1,0.1],[17.2,0.25],[17.25,0.35],[17.3,0.12],[17.4,0.3],
  [17.45,0.5],[17.5,0.15],[17.6,0.3],[17.65,0.1],[17.7,0.22],[17.8,0.4],[17.85,0.12],[17.9,0.3],[18.0,0.15],[18.05,0.5],[18.1,0.1],
  [18.2,0.28],[18.25,0.4],[18.3,0.12],[18.4,0.35],[18.45,0.18],[18.5,0.6],[18.55,0.1],[18.6,2],[18.62,15],[18.65,40],[18.67,5],[18.7,100],
  [18.72,10],[18.75,25],[18.77,1.5],[18.8,60],[18.82,3],[18.85,8],[18.87,0.8],[18.9,1.2],[18.65,0.3],[18.7,0.5],[18.75,0.15],[18.8,0.4],
  [18.85,0.2],[18.9,0.6],[18.95,0.3],[19.0,0.8],[19.05,0.2],[19.1,0.45],[19.15,0.12],[19.2,0.3],[19.25,0.6],[19.3,0.15],[19.35,0.35],
  [19.4,0.1],[19.45,0.25],[19.5,0.5],[19.55,0.12],[19.6,0.3],[19.65,0.2],[19.7,0.45],[19.75,0.1],[19.8,0.28],[19.85,0.4],[19.9,0.15],
  [19.95,0.3],[20.0,0.1],[20.05,0.22],[20.1,0.4],[20.15,0.12],[20.2,0.3],[20.25,0.18],[20.3,0.5],[20.35,0.1],[20.4,0.25],[20.45,0.35],
  [20.5,0.12],[20.55,0.3],[20.6,0.15],[20.65,0.45],[20.7,0.1],[20.75,0.25],[20.8,0.35],[20.85,0.12],[20.9,0.3],[20.95,0.2],[21.0,0.5],
  [21.05,0.15],[21.1,2],[21.12,10],[21.14,25],[21.15,5],[21.16,1],[21.18,3],[21.2,0.4],[21.25,0.15],[21.3,0.3],[21.35,0.1],[21.4,0.25],
  [21.45,0.4],[21.5,0.12],[21.55,0.3],[21.6,0.18],[21.65,0.5],[21.7,0.1],[21.75,0.25],[21.8,0.35],[21.85,0.12],[21.9,0.3],[21.95,0.2],
  [12.12,0.3],[12.22,0.12],[12.32,0.2],[12.42,0.08],[12.52,0.4],[12.62,0.15],[12.72,0.25],[12.82,0.5],[12.92,0.1],[13.02,0.3],[13.12,0.6],
  [13.22,0.15],[13.32,0.3],[13.82,0.12],[13.92,0.5],[14.02,0.25],[14.12,0.1],[14.22,0.35],[14.32,0.7],[14.42,0.2],[14.52,0.4],[14.62,0.12],
  [14.72,0.3],[14.82,0.15],[14.92,0.6],[15.02,0.1],[15.12,0.4],[15.22,0.2],[15.32,0.12],[15.42,0.5],[15.52,0.25],[15.62,0.1],[15.72,0.35],
  [15.82,0.2],[15.92,0.6],[16.02,0.1],[16.12,0.2],[16.22,0.45],[16.32,0.15],[16.42,0.1],[16.52,0.3],[16.62,0.5],[16.72,0.12],[16.82,0.25],
  [16.92,0.1],[17.02,0.3],[17.12,0.2],[17.22,0.12],[17.32,0.5],[17.42,0.15],[17.52,0.35],[17.62,0.1],[17.72,0.4],[17.82,0.2],[17.92,0.1],
  [18.02,0.3],[18.12,0.5],[18.22,0.12],[18.32,0.25],[18.42,0.1],[18.52,0.35],[18.92,0.15],[19.02,0.4],[19.12,0.25],[19.22,0.1],[19.32,0.5],
  [19.42,0.2],[19.52,0.3],[19.62,0.1],[19.72,0.2],[19.82,0.12],[19.92,0.45],[20.02,0.25],[20.12,0.1],[20.22,0.4],[20.32,0.2],[20.42,0.12],
  [20.52,0.5],[20.62,0.3],[20.72,0.15],[20.82,0.1],[20.92,0.4],[21.02,0.25],[21.22,0.1],[21.32,0.45],[21.42,0.2],[21.52,0.35],[21.62,0.1],
  [21.72,0.4],[21.82,0.2],[21.92,0.12]];

// ---------- Augustine
const augustineBands = [[0,5.92,"u"],[5.92,22,"g"],[5.92,6.58,"y"],[5.95,6.35,"o"],[6.0,6.07,"r"],[7.7,7.76,"y"]];
const augustineModisDay = [[0.52,2.3],[0.52,1.6],[0.42,0.45],[0.5,0.33],[0.56,0.3],[1.4,20],[1.44,15],[1.61,10],[1.57,8.5],[1.47,2.7],
  [1.37,2.3],[1.57,0.9],[1.57,0.72],[1.44,0.58],[1.57,0.47],[2.57,35],[2.52,18],[2.57,13],[2.5,8],[2.52,3.5],[2.45,0.4],[2.57,0.32],
  [2.64,3.3],[3.55,20],[3.58,15],[3.44,8],[3.51,4.3],[3.48,3.3],[3.58,1.05],[3.58,0.9],[3.44,0.58],[3.58,0.34],[4.52,55],[4.52,20],
  [4.46,13.5],[4.56,7],[4.49,3.3],[4.6,0.85],[4.46,0.55],[4.52,0.2],[5.47,35],[5.5,20],[5.58,17.5],[5.44,10],[5.54,4.3],[5.44,1.6],
  [5.47,1.05],[5.5,0.55],[5.4,0.5],[6.02,300],[6.04,150],[6.05,80],[6.06,50],[6.07,30],[6.08,20],[6.09,12],[6.1,8],[6.11,5],[6.12,3],
  [6.13,2],[6.14,1.2],[6.06,0.8],[6.08,0.5],[6.15,1.5],[6.2,0.7],[6.62,7],[6.48,0.55],[7.6,30],[7.6,14],[7.43,4.3],[7.57,2.5],[7.5,1.5],
  [7.62,1],[7.57,0.5],[8.25,1.1],[8.46,3.5],[8.56,0.3],[9.51,42],[9.51,20],[9.47,15],[9.51,8],[9.47,3.3],[9.42,1.05],[9.33,0.55],
  [9.42,0.34],[9.58,0.22],[10.24,1.6],[10.21,0.72],[10.45,5],[10.66,6.8],[10.69,3],[10.45,0.5],[11.5,3.7],
  [12.41,0.8],[12.43,1.5],[12.45,3],[12.47,5],[12.44,0.4],[12.46,2],[13.4,60],[13.42,30],[13.45,15],[13.47,8],[13.5,5],[13.52,3],
  [13.55,1.5],[13.5,0.8],[13.58,0.4],[13.45,2],[14.45,5],[14.48,3],[14.5,1.5],[14.52,0.8],[14.47,8],[15.36,60],[15.4,30],[15.42,15],
  [15.45,8],[15.48,4],[15.5,2],[15.43,1],[16.34,10],[16.38,5],[16.4,3],[16.42,1.5],[16.44,0.6],[17.39,10],[17.42,5],[17.44,2.5],[17.46,1],
  [17.4,0.4],[18.4,20],[18.42,10],[18.45,5],[18.47,2.5],[18.49,1],[18.44,0.3],[19.4,100],[19.42,70],[19.43,40],[19.44,25],[19.45,15],
  [19.46,10],[19.47,6],[19.48,4],[19.45,2.5],[19.44,1.5],[19.47,0.8],[19.46,0.4],[19.42,0.2],[20.45,25],[20.48,12],[20.5,6],[20.52,3],
  [20.55,1.5],[20.5,0.4],[21.46,20],[21.48,10],[21.5,5],[21.52,2],[21.53,0.6],[21.9,3],[21.6,1]];
const augustineModisNight = [[1.01,0.18],[3.93,0.8],[5.92,0.2],[6.02,200],[6.04,60],[6.05,25],[6.06,10],[6.07,5],[6.08,3],[6.09,1.5],
  [6.1,0.8],[6.12,0.4],[6.05,0.3],[6.87,0.3],[8.6,0.34],[9.02,0.66],[9.96,0.29],[12.03,0.22],[13.53,0.3],[15.68,0.27],[17.95,0.8],
  [18.86,0.2],[20.55,0.34],[20.62,0.3]];
const augustineViirsDay = [[12.1,0.3],[12.2,1.5],[12.3,0.6],[12.4,3],[12.5,0.2],[12.6,1],[12.7,2],[12.8,0.4],[12.9,5],[13.0,0.8],[13.1,2],
  [13.2,0.3],[13.3,1.2],[13.6,4],[13.7,0.6],[13.8,1.5],[13.9,0.3],[14.0,2.5],[14.1,0.8],[14.2,1.2],[14.3,0.4],[14.6,3],[14.7,0.7],
  [14.8,1.5],[14.9,0.3],[15.0,2],[15.1,0.6],[15.2,4],[15.3,1],[15.6,0.5],[15.7,2],[15.8,1],[15.9,0.3],[16.0,3],[16.1,0.8],[16.2,1.5],
  [16.5,0.4],[16.6,2.5],[16.7,1],[16.8,0.5],[16.9,4],[17.0,1.2],[17.1,0.3],[17.2,2],[17.3,0.8],[17.6,1.5],[17.7,0.4],[17.8,3],[17.9,1],
  [18.0,0.6],[18.1,2],[18.2,5],[18.25,1],[18.3,0.5],[18.35,3],[18.6,1.5],[18.7,0.5],[18.8,8],[18.85,2],[18.9,1],[19.0,4],[19.1,0.6],
  [19.2,2.5],[19.3,1],[19.6,3],[19.7,0.5],[19.8,1.5],[19.9,6],[20.0,0.8],[20.1,2],[20.2,0.4],[20.3,3],[20.6,1],[20.7,5],[20.8,0.6],
  [20.9,2],[21.0,10],[21.05,3],[21.1,1],[21.15,0.5],[21.2,15],[21.25,6],[21.3,2],[21.35,0.8],[21.4,4],[21.6,1.5],[21.7,0.5],[21.75,3],
  [21.8,8],[21.85,1],[21.9,2],[21.95,0.4]];
const augustineViirsNight = [[14.25,0.08],[14.7,0.1],[15.6,0.12],[16.8,0.06],[17.0,0.1],[18.7,0.15],[19.1,0.08],[20.55,0.1],[21.2,0.12],
  [12.3,0.1],[13.9,0.06],[17.6,0.08]];

// ---------- Redoubt
const redoubtBands = [[0,22,"g"],[8.84,9.75,"y"],[9.05,9.57,"o"],[9.21,9.26,"r"],[9.98,10.0,"y"],[10.2,10.22,"y"]];
const redoubtModisDay = [[0.49,16],[0.49,3.7],[1.54,12.5],[1.54,7],[1.51,4.8],[2.52,12.5],[2.5,2.1],[2.5,1.05],[2.52,0.75],[3.44,12],
  [3.48,5.5],[3.44,3.1],[3.37,1.02],[3.23,0.82],[3.3,0.44],[3.53,1.1],[4.49,16],[4.46,10],[4.52,1.02],[4.56,0.18],[5.44,24],[5.47,3.1],
  [5.47,1.35],[5.47,0.8],[6.52,3.7],[6.48,1.6],[6.59,1.15],[7.57,7.3],[7.43,2.2],[7.62,2.1],[8.49,7.3],[8.39,3.7],[8.58,5.5],[8.42,1.35],
  [9.22,20],[9.24,15],[9.25,10],[9.26,8],[9.27,6],[9.28,4],[9.25,3],[9.27,2],[9.26,1.5],[9.28,1],[9.29,0.6],[9.3,0.4],[9.24,12],
  [9.54,1.1],[10.48,1],[10.91,1.45],[11.85,0.64],[10.38,0.36],[15.43,17],[16.38,12],[16.38,9],[16.4,7],[18.44,8],[16.41,1.45],
  [19.42,1.02],[19.42,0.9],[13.5,3],[12.8,1],[21.2,2],[20.3,1.5]];
const redoubtModisNight = [[2.22,0.18],[2.76,0.28],[3.09,0.11],[4.98,0.2],[5.12,0.14],[5.99,0.44],[6.1,0.14],[7.08,0.5],[8.18,0.3],
  [9.24,18],[9.25,12],[9.26,6],[9.27,3],[9.25,1.5],[9.28,0.8],[9.26,0.4],[9.64,0.47],[10.13,0.47],[10.21,0.47],[10.13,0.33],
  [15.95,0.77],[16.76,0.44],[17.32,0.4],[17.95,0.58],[19.78,0.44],[21.04,0.5],[21.11,0.85],[20.34,0.3],[20.83,0.2]];
const redoubtViirsDay = [[12.1,0.5],[12.12,2],[12.15,8],[12.18,1],[12.2,4],[12.22,0.3],[12.25,12],[12.28,1.5],[12.3,6],[12.33,0.8],[12.36,3],
  [12.4,10],[12.43,1.2],[12.46,5],[12.5,0.6],[12.55,2],[12.6,7],[12.65,1],[12.7,3],[12.75,0.5],[12.8,9],[12.85,2],[12.9,4],[12.95,0.8],
  [13.0,6],[13.05,1.5],[13.1,3],[13.15,12],[13.2,0.7],[13.25,2.5],[13.3,5],[13.35,1],[13.4,8],[13.45,2],[13.5,0.6],[13.55,4],[13.6,10],
  [13.65,1.5],[13.7,3],[13.75,6],[13.8,0.8],[13.85,2],[13.9,5],[13.95,1.2],[14.0,3],[14.05,8],[14.1,0.5],[14.15,2],[14.2,4],[14.25,1],
  [14.3,6],[14.35,2.5],[14.4,0.7],[14.45,3],[14.5,9],[14.55,1.5],[14.6,4],[14.65,0.8],[14.7,2],[14.75,6],[14.8,1.2],[14.85,3],[14.9,10],
  [14.95,0.6],[15.0,2],[15.05,5],[15.1,1],[15.15,3],[15.2,7],[15.25,1.5],[15.3,0.5],[15.35,4],[15.4,2],[15.45,8],[15.5,1],[15.55,3],
  [15.6,5],[15.65,0.7],[15.7,2],[15.75,6],[15.8,1.5],[15.85,3],[15.9,0.8],[15.95,4],[16.0,9],[16.05,1.2],[16.1,2.5],[16.15,5],[16.2,0.6],
  [16.25,3],[16.3,7],[16.35,1.5],[16.4,4],[16.45,0.8],[16.5,2],[16.55,6],[16.6,1],[16.65,3],[16.7,10],[16.75,1.5],[16.8,4],[16.85,0.5],
  [16.9,2],[16.95,6],[17.0,1.2],[17.05,3],[17.1,8],[17.15,0.7],[17.2,2.5],[17.25,5],[17.3,1],[17.35,3],[17.4,0.6],[17.45,6],[17.5,1.5],
  [17.55,3],[17.6,9],[17.65,0.8],[17.7,2],[17.75,5],[17.8,1.2],[17.85,3],[17.9,0.5],[17.95,7],[18.0,2],[18.05,4],[18.1,1],[18.15,12],
  [18.2,3],[18.25,0.7],[18.3,5],[18.35,1.5],[18.4,3],[18.45,8],[18.5,0.8],[18.55,2],[18.6,6],[18.65,1.2],[18.7,3],[18.75,0.5],[18.8,4],
  [18.85,10],[18.9,1.5],[18.95,3],[19.0,6],[19.05,0.8],[19.1,2],[19.15,5],[19.2,1],[19.25,3],[19.3,8],[19.35,0.6],[19.4,2.5],[19.45,5],
  [19.5,1.2],[19.55,3],[19.6,0.7],[19.65,7],[19.7,2],[19.75,4],[19.8,1],[19.85,3],[19.9,0.5],[19.95,6],[20.0,1.5],[20.05,3],[20.1,9],
  [20.15,0.8],[20.2,2],[20.25,5],[20.3,1],[20.35,3],[20.4,0.6],[20.45,6],[20.5,1.5],[20.55,3],[20.6,8],[20.65,1],[20.7,2.5],[20.75,5],
  [20.8,0.7],[20.85,3],[20.9,7],[20.95,1.2],[21.0,3],[21.05,0.5],[21.1,5],[21.15,2],[21.2,9],[21.25,1],[21.3,3],[21.35,6],[21.4,0.8],
  [21.45,2],[21.5,4],[21.55,1.5],[21.6,8],[21.65,0.6],[21.7,3],[21.75,5],[21.8,1],[21.85,2.5],[21.9,6],[21.95,1.2],
  [12.13,3],[12.23,1],[12.32,2],[12.38,5],[12.48,1.5],[12.58,3],[12.68,5],[12.78,1.5],[12.88,2.5],[12.98,1],[13.08,5],[13.18,2],[13.28,1.2],
  [13.38,3],[13.48,6],[13.58,1],[13.68,5],[13.78,2],[13.88,1],[13.98,6],[14.08,2],[14.18,1],[14.28,3],[14.38,5],[14.48,1.5],[14.58,2],
  [14.68,4],[14.78,1],[14.88,5],[14.98,3],[15.08,1.5],[15.18,2.5],[15.28,4],[15.38,1],[15.48,3],[15.58,2],[15.68,4],[15.78,1],[15.88,6],
  [15.98,2],[16.08,5],[16.18,1.5],[16.28,2],[16.38,6],[16.48,1.2],[16.58,3],[16.68,1.5],[16.78,6],[16.88,2],[16.98,3],[17.08,1.5],[17.18,4],
  [17.28,2],[17.38,6],[17.48,1],[17.58,4],[17.68,2.5],[17.78,1],[17.88,6],[17.98,3],[18.08,1.5],[18.18,5],[18.28,2],[18.38,1],[18.48,4],
  [18.58,2],[18.68,6],[18.78,1.5],[18.88,3],[18.98,1],[19.08,4],[19.18,2],[19.28,1.2],[19.38,5],[19.48,2],[19.58,4],[19.68,1],[19.78,6],
  [19.88,2],[19.98,3],[20.08,1],[20.18,4],[20.28,2],[20.38,5],[20.48,1],[20.58,2],[20.68,4],[20.78,1.5],[20.88,2],[20.98,5],[21.08,1.5],
  [21.18,3],[21.28,5],[21.38,2],[21.48,1],[21.58,3],[21.68,5],[21.78,2],[21.88,1],[21.98,3]];
const redoubtViirsNight = [[12.1,0.4],[12.12,0.1],[12.15,0.7],[12.18,0.2],[12.2,0.5],[12.22,0.05],[12.25,0.3],[12.28,0.8],[12.3,0.15],
  [12.33,0.45],[12.36,0.1],[12.4,0.6],[12.43,0.25],[12.46,0.35],[12.5,0.08],[12.53,0.5],[12.56,0.2],[12.6,0.7],[12.63,0.12],[12.66,0.4],
  [12.7,0.25],[12.73,0.55],[12.76,0.1],[12.8,0.35],[12.83,0.6],[12.86,0.15],[12.9,0.45],[12.93,0.2],[12.96,0.3],[13.0,0.08],[13.03,0.5],
  [13.06,0.25],[13.1,0.4],[13.13,0.12],[13.16,0.3],[13.2,0.55],[13.25,0.2],[13.3,0.35],[13.35,0.1],[13.4,0.25],[13.45,0.4],[13.5,0.15],
  [13.6,0.3],[13.65,0.1],[13.7,0.2],[13.8,0.35],[13.85,0.08],[13.9,0.2],[14.0,0.3],[14.05,0.12],[14.1,0.45],[14.2,0.2],[14.25,0.1],
  [14.3,0.3],[14.4,0.15],[14.45,0.35],[14.5,0.08],[14.6,0.25],[14.7,0.12],[14.75,0.3],[14.8,0.2],[14.9,0.1],[15.0,0.25],[15.1,0.15],
  [15.2,0.3],[15.3,0.08],[15.4,0.2],[15.5,0.12],[15.6,0.25],[15.7,0.1],[15.8,0.2],[15.9,0.08],[16.0,0.15],[16.1,0.3],[16.2,0.1],[16.3,0.2],
  [16.4,0.12],[16.5,0.35],[16.6,0.1],[16.7,0.25],[16.8,0.15],[16.9,0.08],[17.0,0.2],[17.1,0.12],[17.2,0.3],[17.3,0.1],[17.4,0.18],
  [17.5,0.08],[17.6,0.25],[17.7,0.12],[17.8,0.2],[17.9,0.3],[18.0,0.1],[18.1,0.22],[18.2,0.15],[18.3,0.35],[18.4,0.1],[18.5,0.2],[18.6,0.3],
  [18.7,0.12],[18.8,0.25],[18.9,0.15],[19.0,0.35],[19.1,0.1],[19.2,0.2],[19.3,0.3],[19.4,0.12],[19.5,0.25],[19.6,0.15],[19.7,0.3],
  [19.8,0.1],[19.9,0.2],[20.0,0.12],[20.1,0.3],[20.2,0.15],[20.3,0.08],[20.4,0.2],[20.5,0.25],[20.6,0.1],[20.7,0.2],[20.8,0.3],[20.9,0.12],
  [21.0,0.2],[21.1,0.1],[21.2,0.3],[21.3,0.15],[21.4,0.25],[21.5,0.1],[21.6,0.2],[21.7,0.3],[21.8,0.12],[21.9,0.2],[21.95,0.1],
  [12.11,0.25],[12.16,0.15],[12.24,0.6],[12.31,0.3],[12.38,0.2],[12.44,0.5],[12.48,0.15],[12.58,0.35],[12.62,0.1],[12.68,0.55],[12.78,0.3],
  [12.88,0.25],[12.98,0.5],[13.08,0.15],[13.18,0.3],[13.28,0.45],[13.38,0.1],[13.48,0.3],[13.55,0.2],[13.75,0.15],[13.95,0.25],[14.15,0.1],
  [14.35,0.2],[14.55,0.15],[14.85,0.25],[14.95,0.06],[15.05,0.12],[15.25,0.18],[15.45,0.3],[15.65,0.08],[15.85,0.15],[15.95,0.25],[16.05,0.08],
  [16.25,0.25],[16.45,0.08],[16.55,0.2],[16.75,0.1],[16.95,0.3],[17.15,0.2],[17.35,0.08],[17.55,0.2],[17.75,0.3],[17.95,0.1],[18.15,0.3],
  [18.35,0.12],[18.55,0.25],[18.75,0.2],[18.95,0.1],[19.15,0.25],[19.35,0.15],[19.55,0.35],[19.75,0.12],[19.95,0.25],[20.15,0.2],[20.35,0.12],
  [20.55,0.08],[20.75,0.25],[20.95,0.3],[21.15,0.15],[21.35,0.3],[21.55,0.2],[21.75,0.1],[21.85,0.3]];

// one row per panel, in drawing order
const panels = [
  [clevelandBands, clevelandModisDay, clevelandModisNight, clevelandViirsDay, clevelandViirsNight],
  [okmokBands, okmokModisDay, okmokModisNight, okmokViirsDay, okmokViirsNight],
  [bogoslofBands, bogoslofModisDay, bogoslofModisNight, bogoslofViirsDay, bogoslofViirsNight],
  [shishaldinBands, shishaldinModisDay, shishaldinModisNight, shishaldinViirsDay, shishaldinViirsNight],
  [pavlofBands, pavlofModisDay, pavlofModisNight, pavlofViirsDay, pavlofViirsNight],
  [veniaminofBands, veniaminofModisDay, veniaminofModisNight, veniaminofViirsDay, veniaminofViirsNight],
  [augustineBands, augustineModisDay, augustineModisNight, augustineViirsDay, augustineViirsNight],
  [redoubtBands, redoubtModisDay, redoubtModisNight, redoubtViirsDay, redoubtViirsNight]
];

// ---------- layout and style
const left = 72.7, right = 790.5, top0 = 32, pitch = 136.5, ph = 113;
const bandColor = { u: "#efefef", g: "#d3e9c1", y: "#f8eaaa", o: "#f6cba7", r: "#f1a59c" };
const sensorColor = { MODIS: "#3d2f60", VIIRS: "#8c1b2e" };
const styles = {
  "MODIS day":   { r: 2.1, fill: "none", stroke: "#4f4fd6", op: 0.75 },
  "MODIS night": { r: 1.3, fill: "#000", stroke: "none", op: 0.9 },
  "VIIRS day":   { r: 2.1, fill: "none", stroke: "#ea5f98", op: 0.65 },
  "VIIRS night": { r: 1.65, fill: "#7a0a1c", stroke: "none", op: 0.85 }
};
const drawOrder = [2, 3, 0, 1]; // VIIRS under MODIS

const svg = d3.select("#chart");
const x = d3.scaleLinear().domain([2000, 2022]).range([left, right]);
const defs = svg.append("defs");

const minors = [];
[1, 10, 100].forEach(k => d3.range(2, 10).forEach(m => minors.push(m * k)));

panels.forEach((p, i) => {
  const y0 = top0 + i * pitch, y1 = y0 + ph;
  const y = d3.scaleSymlog().constant(0.084).domain([0, 1000]).range([y1, y0]);
  const g = svg.append("g");

  defs.append("clipPath").attr("id", "clip" + i)
    .append("rect").attr("x", left).attr("y", y0).attr("width", right - left).attr("height", ph);
  const plot = g.append("g").attr("clip-path", `url(#clip${i})`);

  plot.selectAll("rect").data(p[0]).join("rect")
    .attr("x", d => x(2000 + d[0]))
    .attr("width", d => x(2000 + d[1]) - x(2000 + d[0]))
    .attr("y", y0).attr("height", ph)
    .attr("fill", d => bandColor[d[2]]);

  drawOrder.forEach(s => {
    const st = styles[seriesNames[s]];
    plot.append("g").selectAll("circle").data(p[s + 1]).join("circle")
      .attr("cx", d => x(2000 + d[0]))
      .attr("cy", d => y(d[1]))
      .attr("r", st.r)
      .attr("fill", st.fill)
      .attr("stroke", st.stroke)
      .attr("stroke-width", 0.8)
      .attr("opacity", st.op);
  });

  // name box
  const lab = g.append("text").attr("x", 87).attr("y", y0 + 26.5).attr("font-size", 17).attr("fill", "#111");
  lab.append("tspan").text(volcanoes[i]);
  lab.append("tspan").attr("dx", 11).text("n=" + detections[i]);
  const bb = lab.node().getBBox();
  g.insert("rect", "text").attr("x", 80).attr("y", y0 + 7).attr("width", bb.x + bb.width - 80 + 6).attr("height", 28)
    .attr("rx", 2).attr("fill", "#fff").attr("fill-opacity", 0.72);

  // frame
  g.append("rect").attr("x", left).attr("y", y0).attr("width", right - left).attr("height", ph)
    .attr("fill", "none").attr("stroke", "#222").attr("stroke-width", 1.2);

  // y ticks, both sides
  [[left, -1], [right, 1]].forEach(([xe, dir]) => {
    g.append("g").selectAll("line").data(powerTicks).join("line")
      .attr("x1", xe).attr("x2", xe + dir * 7).attr("y1", d => y(d)).attr("y2", d => y(d))
      .attr("stroke", "#222").attr("stroke-width", 1);
    g.append("g").selectAll("line").data(minors).join("line")
      .attr("x1", xe).attr("x2", xe + dir * 3.5).attr("y1", d => y(d)).attr("y2", d => y(d))
      .attr("stroke", "#222").attr("stroke-width", 0.7);
  });
  const yl = g.append("g").selectAll("text").data(powerTicks).join("text")
    .attr("x", d => d === 0 ? 61 : 51).attr("y", d => y(d) + 5)
    .attr("text-anchor", "end").attr("font-size", 15).attr("fill", "#111");
  yl.append("tspan").text(d => d === 0 ? "0" : "10");
  yl.filter(d => d !== 0).append("tspan").attr("font-size", 10.5).attr("dy", -6.5)
    .text(d => powerExp[powerTicks.indexOf(d)]);

  // x ticks
  g.append("g").selectAll("line").data(yearTicks).join("line")
    .attr("x1", d => x(d)).attr("x2", d => x(d)).attr("y1", y1).attr("y2", y1 + 6)
    .attr("stroke", "#222").attr("stroke-width", 1);
  if (i === panels.length - 1) {
    g.append("g").selectAll("text").data(yearLabels).join("text")
      .attr("x", d => x(d)).attr("y", y1 + 25.5).attr("text-anchor", "middle")
      .attr("font-size", 16).attr("fill", "#111").text(d => d);
  }

  // legend in the Bogoslof panel
  if (i === 2) {
    const lg = g.append("g");
    lg.append("rect").attr("x", 273).attr("y", y0 + 6).attr("width", 319).attr("height", 51)
      .attr("rx", 3).attr("fill", "#fff").attr("fill-opacity", 0.8);
    const lx = [296, 296, 469, 469], ly = [19, 42, 19, 42];
    seriesNames.forEach((name, k) => {
      const st = styles[name];
      lg.append("circle").attr("cx", lx[k]).attr("cy", y0 + ly[k])
        .attr("r", st.fill === "none" ? 4 : 3.6)
        .attr("fill", st.fill).attr("stroke", st.stroke).attr("stroke-width", 1);
      lg.append("text").attr("x", lx[k] + 29).attr("y", y0 + ly[k] + 5.5)
        .attr("font-size", 17).attr("fill", "#111").text(name);
    });
  }
});

// satellite launches along the top
const sat = svg.append("g");
sat.selectAll("line").data(satelliteYears).join("line")
  .attr("x1", d => x(d)).attr("x2", d => x(d)).attr("y1", top0).attr("y2", top0 - 8)
  .attr("stroke", "#222").attr("stroke-width", 1.2);
sat.selectAll("text").data(satelliteNames).join("text")
  .attr("x", (d, k) => x(satelliteYears[k])).attr("y", 16).attr("text-anchor", "middle")
  .attr("font-size", 16).attr("fill", (d, k) => sensorColor[satelliteSensor[k]]).text(d => d);

// y title
svg.append("text").attr("transform", "translate(20,560) rotate(-90)")
  .attr("text-anchor", "middle").attr("font-size", 22).attr("fill", "#111")
  .text("Radiative Power (MW)");
</script>
</body>
</html>
